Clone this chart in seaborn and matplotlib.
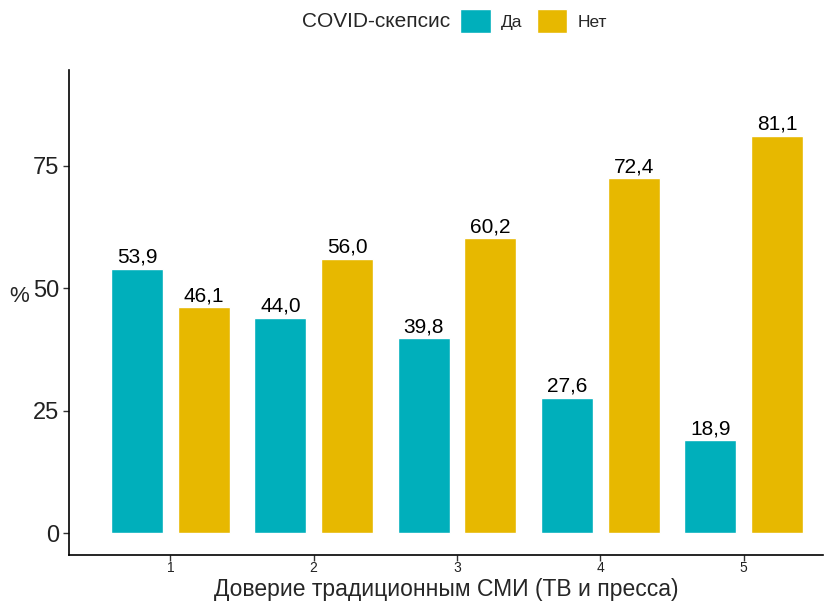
import pandas as pd
import matplotlib.pyplot as plt
import seaborn as sns
from matplotlib.patches import Patch

# --- данные ---
levels = ["1", "2", "3", "4", "5"]
da = [53.9, 44.0, 39.8, 27.6, 18.9]
net = [46.1, 56.0, 60.2, 72.4, 81.1]
groups = ["Да", "Нет"]
colors = ["#00AFBB", "#E7B800"]

df = pd.DataFrame({
    "level": levels * 2,
    "group": [groups[0]] * len(levels) + [groups[1]] * len(levels),
    "value": da + net,
})

sns.set_style("white")
plt.rcParams["font.family"] = ["Liberation Sans", "DejaVu Sans"]

fig, ax = plt.subplots(figsize=(8.25, 6.06), dpi=100)
fig.subplots_adjust(left=0.084, right=0.997, bottom=0.084, top=0.885)

sns.barplot(data=df, x="level", y="value", hue="group", order=levels,
            hue_order=groups, palette=colors, width=0.93, gap=0.22,
            saturation=1, ax=ax, legend=False)

for cont in ax.containers:
    vals = [b.get_height() for b in cont]
    ax.bar_label(cont, labels=[f"{v:.1f}".replace(".", ",") for v in vals],
                 padding=1.5, fontsize=15, color="black")

ax.set_ylim(-4.5, 94.6)
ax.set_xlim(-0.705, 4.55)
ax.set_yticks([0, 25, 50, 75])
ax.tick_params(axis="y", labelsize=17, length=4, width=1, direction="out", left=True,
               color="#333333", labelcolor="#222222", pad=3)
ax.tick_params(axis="x", labelsize=10, length=4, width=1, direction="out", bottom=True,
               color="#333333", labelcolor="#222222", pad=0.5)
ax.set_xlabel("Доверие традиционным СМИ (ТВ и пресса)", fontsize=16.5, labelpad=2)
ax.set_ylabel("%", fontsize=16, rotation=0, ha="center", va="center")
ax.yaxis.set_label_coords(-0.067, 0.532)
sns.despine(ax=ax)
for s in ["left", "bottom"]:
    ax.spines[s].set_color("black")
    ax.spines[s].set_linewidth(1.2)

handles = [Patch(facecolor=c, label=g) for c, g in zip(colors, groups)]
fig.text(0.546, 0.965, "COVID-скепсис", fontsize=15, ha="right", va="center")
fig.legend(handles=handles, loc="center left", bbox_to_anchor=(0.558, 0.965),
           ncol=2, frameon=False, fontsize=12.5, handlelength=1.75, handleheight=1.75,
           columnspacing=0.8, handletextpad=0.6, borderaxespad=0, borderpad=0)

fig.savefig("out.png", dpi=100)
